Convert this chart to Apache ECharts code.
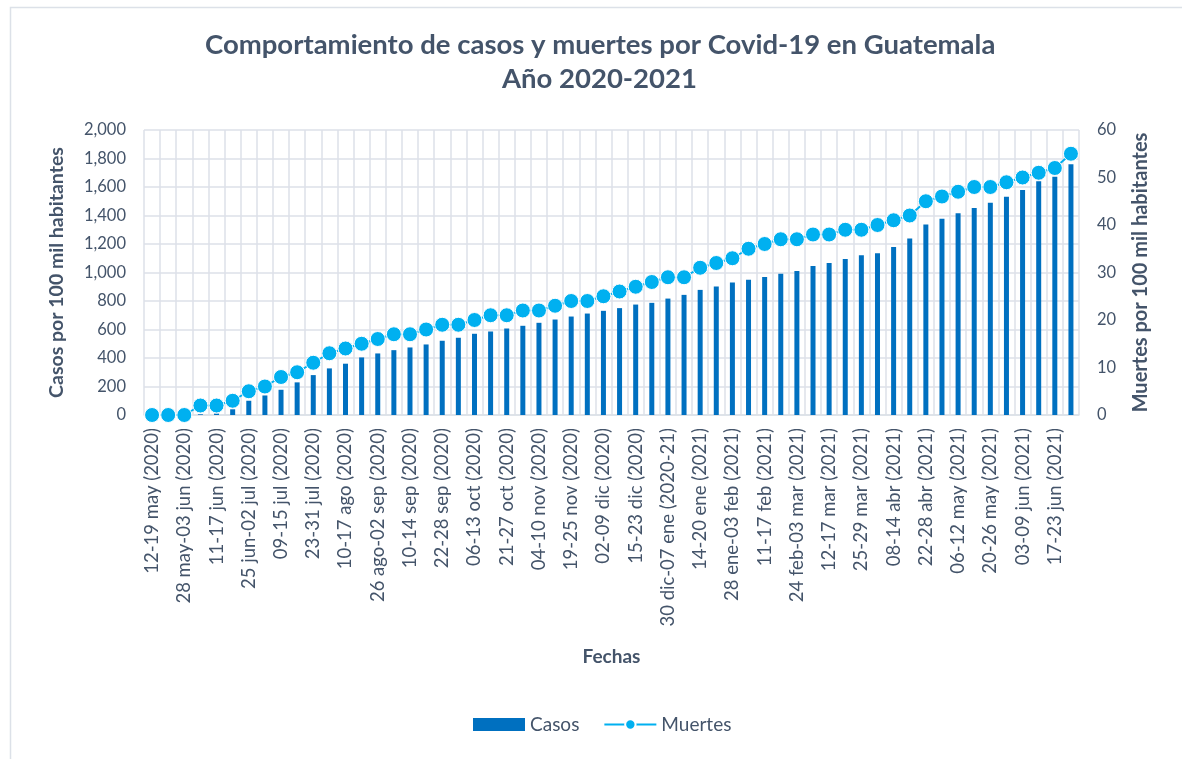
<!DOCTYPE html>
<html>
<head>
<meta charset="utf-8">
<title>Covid-19 Guatemala</title>
<script src="https://cdn.jsdelivr.net/npm/echarts@6/dist/echarts.min.js"></script>
<style>
  html, body { margin: 0; padding: 0; background: #fff; }
  #chart { width: 1182px; height: 759px; }
</style>
</head>
<body>
<div id="chart"></div>
<script>
const textColor = '#44546A';
const gridColor = '#DCE1E8';
const casosColor = '#0070C0';
const muertesColor = '#00B0F0';

// semanas (solo se ve una de cada dos etiquetas)
const fechas = [
  '12-19 may (2020)', '20-27 may (2020)', '28 may-03 jun (2020)', '04-10 jun (2020)',
  '11-17 jun (2020)', '18-24 jun (2020)', '25 jun-02 jul (2020)', '03-08 jul (2020)',
  '09-15 jul (2020)', '16-22 jul (2020)', '23-31 jul (2020)', '01-09 ago (2020)',
  '10-17 ago (2020)', '18-25 ago (2020)', '26 ago-02 sep (2020)', '03-09 sep (2020)',
  '10-14 sep (2020)', '15-21 sep (2020)', '22-28 sep (2020)', '29 sep-05 oct (2020)',
  '06-13 oct (2020)', '14-20 oct (2020)', '21-27 oct (2020)', '28 oct-03 nov (2020)',
  '04-10 nov (2020)', '11-18 nov (2020)', '19-25 nov (2020)', '26 nov-01 dic (2020)',
  '02-09 dic (2020)', '10-14 dic (2020)', '15-23 dic (2020)', '24-29 dic (2020)',
  '30 dic-07 ene (2020-21)', '08-13 ene (2021)', '14-20 ene (2021)', '21-27 ene (2021)',
  '28 ene-03 feb (2021)', '04-10 feb (2021)', '11-17 feb (2021)', '18-23 feb (2021)',
  '24 feb-03 mar (2021)', '04-11 mar (2021)', '12-17 mar (2021)', '18-24 mar (2021)',
  '25-29 mar (2021)', '30 mar-07 abr (2021)', '08-14 abr (2021)', '15-21 abr (2021)',
  '22-28 abr (2021)', '29 abr-05 may (2021)', '06-12 may (2021)', '13-19 may (2021)',
  '20-26 may (2021)', '27 may-02 jun (2021)', '03-09 jun (2021)', '10-16 jun (2021)',
  '17-23 jun (2021)', '24-30 jun (2021)'
];

const casos = [
  0, 0, 0, 5, 10, 40, 100, 137, 177, 229,
  280, 327, 360, 404, 432, 455, 474, 495, 521, 542,
  570, 586, 607, 626, 647, 670, 691, 712, 731, 750,
  775, 787, 817, 843, 878, 901, 929, 950, 969, 992,
  1011, 1046, 1067, 1095, 1121, 1135, 1179, 1238, 1336, 1378,
  1415, 1453, 1490, 1532, 1579, 1640, 1672, 1759
];

const muertes = [
  0, 0, 0, 2, 2, 3, 5, 6, 8, 9,
  11, 13, 14, 15, 16, 17, 17, 18, 19, 19,
  20, 21, 21, 22, 22, 23, 24, 24, 25, 26,
  27, 28, 29, 29, 31, 32, 33, 35, 36, 37,
  37, 38, 38, 39, 39, 40, 41, 42, 45, 46,
  47, 48, 48, 49, 50, 51, 52, 55
];

const font = 'Lato, "Liberation Sans", sans-serif';

const titleStyle = {
  fontFamily: font,
  fontSize: 27.5,
  fontWeight: 'bold',
  color: textColor
};

const option = {
  backgroundColor: '#fff',
  textStyle: { fontFamily: font },
  animation: false,
  title: [
    {
      text: 'Comportamiento de casos y muertes por Covid-19 en Guatemala',
      left: 200,
      top: 26,
      textStyle: titleStyle
    },
    {
      text: 'Año 2020-2021',
      left: 497,
      top: 60,
      textStyle: titleStyle
    }
  ],
  graphic: [{
    type: 'rect',
    left: 8,
    top: 5,
    shape: { width: 1200, height: 800 },
    style: { fill: 'none', stroke: gridColor, lineWidth: 1.5 },
    silent: true
  }],
  legend: {
    bottom: 20,
    left: 468,
    itemWidth: 52,
    itemHeight: 13,
    itemGap: 24,
    textStyle: { fontFamily: font, fontSize: 19, color: textColor },
    data: [
      { name: 'Casos', icon: 'rect' },
      { name: 'Muertes' }
    ]
  },
  grid: {
    left: 144,
    right: 103,
    top: 130,
    bottom: 344
  },
  xAxis: [{
    type: 'category',
    data: fechas,
    name: 'Fechas',
    nameLocation: 'middle',
    nameGap: 232,
    nameTextStyle: { fontFamily: font, fontSize: 19, fontWeight: 'bold', color: textColor },
    axisLine: { lineStyle: { color: gridColor, width: 1.5 } },
    axisTick: { show: false },
    axisLabel: {
      interval: 1,
      rotate: 90,
      margin: 13,
      fontFamily: font,
      fontSize: 18.5,
      color: textColor
    },
    splitLine: {
      show: true,
      interval: 0,
      lineStyle: { color: gridColor, width: 1.5 }
    }
  }],
  yAxis: [
    {
      type: 'value',
      min: 0,
      max: 2000,
      interval: 200,
      name: 'Casos por 100 mil habitantes',
      nameLocation: 'middle',
      nameGap: 77,
      nameTextStyle: { fontFamily: font, fontSize: 19.5, fontWeight: 'bold', color: textColor },
      axisLine: { show: false },
      axisTick: { show: false },
      axisLabel: {
        margin: 18,
        fontFamily: font,
        fontSize: 16.5,
        color: textColor,
        formatter: v => v.toLocaleString('en-US')
      },
      splitLine: { lineStyle: { color: gridColor, width: 1.5 } }
    },
    {
      type: 'value',
      min: 0,
      max: 60,
      interval: 10,
      position: 'right',
      name: 'Muertes por 100 mil habitantes',
      nameLocation: 'middle',
      nameGap: 52,
      nameRotate: 90,
      nameTextStyle: { fontFamily: font, fontSize: 20, fontWeight: 'bold', color: textColor },
      axisLine: { show: false },
      axisTick: { show: false },
      axisLabel: {
        margin: 18,
        fontFamily: font,
        fontSize: 16.5,
        color: textColor
      },
      splitLine: { show: false }
    }
  ],
  series: [
    {
      name: 'Casos',
      type: 'bar',
      yAxisIndex: 0,
      barWidth: 5,
      itemStyle: { color: casosColor },
      data: casos
    },
    {
      name: 'Muertes',
      type: 'line',
      yAxisIndex: 1,
      symbol: 'circle',
      symbolSize: 15,
      showAllSymbol: true,
      lineStyle: { color: muertesColor, width: 2 },
      itemStyle: { color: muertesColor, borderColor: '#fff', borderWidth: 1 },
      data: muertes
    }
  ]
};

const chart = echarts.init(document.getElementById('chart'));
chart.setOption(option);
</script>
</body>
</html>
